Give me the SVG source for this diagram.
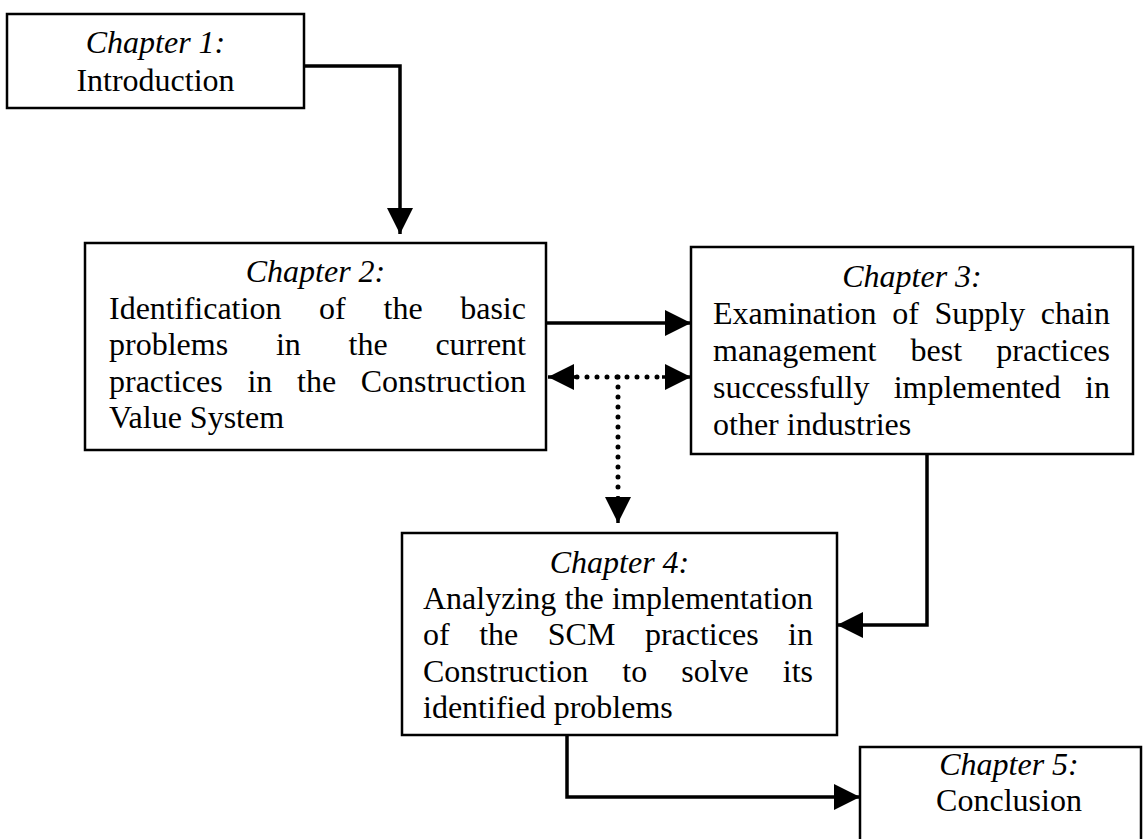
<svg xmlns="http://www.w3.org/2000/svg" width="1147" height="839" viewBox="0 0 1147 839">
  <style>
    .box { fill: #fff; stroke: #000; stroke-width: 2.5; }
    .t { font-family: "Liberation Serif", "Times New Roman", serif; font-size: 32px; fill: #000; }
    .h { font-style: italic; text-anchor: middle; }
    .c { text-anchor: middle; }
    .wire { fill: none; stroke: #000; stroke-width: 3.5; }
    .dots { fill: none; stroke: #000; stroke-width: 5; stroke-linecap: round; stroke-dasharray: 0 10; }
  </style>
  <defs>
    <marker id="ah" markerUnits="userSpaceOnUse" markerWidth="28" markerHeight="28" refX="26" refY="13" orient="auto-start-reverse">
      <path d="M0,0 L26,13 L0,26 z" fill="#000"/>
    </marker>
  </defs>

  <rect width="1147" height="839" fill="#fff"/>

  <g id="connectors">
    <path class="wire" d="M304,66 H400 V234" marker-end="url(#ah)"/>
    <path class="wire" d="M546,323 H691" marker-end="url(#ah)"/>
    <path class="dots" d="M577,377 H662"/>
    <path class="wire" d="M548,377 H577" stroke="none" marker-start="url(#ah)"/>
    <path class="wire" d="M662,377 H691" stroke="none" marker-end="url(#ah)"/>
    <path class="dots" d="M618,377 V496"/>
    <path class="wire" d="M618,496 V523" stroke="none" marker-end="url(#ah)"/>
    <path class="wire" d="M927,454 V625 H837" marker-end="url(#ah)"/>
    <path class="wire" d="M567,735 V797 H860" marker-end="url(#ah)"/>
  </g>

  <g id="chapter1">
    <rect class="box" x="7" y="14" width="297" height="94"/>
    <text class="t h" x="155.5" y="53">Chapter 1:</text>
    <text class="t c" x="155.5" y="91">Introduction</text>
  </g>

  <g id="chapter2">
    <rect class="box" x="85" y="243" width="461" height="207"/>
    <text class="t h" x="315.5" y="282">Chapter 2:</text>
    <text class="t" y="319"><tspan x="109">Identification</tspan><tspan x="319.1">of</tspan><tspan x="383.5">the</tspan><tspan x="460.2">basic</tspan></text>
    <text class="t" y="355"><tspan x="109">problems</tspan><tspan x="275.9">in</tspan><tspan x="348.6">the</tspan><tspan x="435.4">current</tspan></text>
    <text class="t" y="392"><tspan x="109">practices</tspan><tspan x="247.4">in</tspan><tspan x="297">the</tspan><tspan x="360.7">Construction</tspan></text>
    <text class="t" x="109" y="428">Value System</text>
  </g>

  <g id="chapter3">
    <rect class="box" x="691" y="247" width="442" height="207"/>
    <text class="t h" x="912" y="287">Chapter 3:</text>
    <text class="t" y="324"><tspan x="713">Examination</tspan><tspan x="892.2">of</tspan><tspan x="934.5">Supply</tspan><tspan x="1040.7">chain</tspan></text>
    <text class="t" y="361"><tspan x="713">management</tspan><tspan x="910.6">best</tspan><tspan x="996.3">practices</tspan></text>
    <text class="t" y="398"><tspan x="713">successfully</tspan><tspan x="893.7">implemented</tspan><tspan x="1085.1">in</tspan></text>
    <text class="t" x="713" y="435">other industries</text>
  </g>

  <g id="chapter4">
    <rect class="box" x="402" y="533" width="435" height="202"/>
    <text class="t h" x="619.5" y="573">Chapter 4:</text>
    <text class="t" y="609"><tspan x="423">Analyzing</tspan><tspan x="564.7">the</tspan><tspan x="612.1">implementation</tspan></text>
    <text class="t" y="645"><tspan x="423">of</tspan><tspan x="479.2">the</tspan><tspan x="547.8">SCM</tspan><tspan x="644.9">practices</tspan><tspan x="788.1">in</tspan></text>
    <text class="t" y="682"><tspan x="423">Construction</tspan><tspan x="622.3">to</tspan><tspan x="681.2">solve</tspan><tspan x="782.8">its</tspan></text>
    <text class="t" x="423" y="718">identified problems</text>
  </g>

  <g id="chapter5">
    <rect class="box" x="860" y="747" width="281" height="110"/>
    <text class="t h" x="1009" y="775">Chapter 5:</text>
    <text class="t c" x="1009" y="811">Conclusion</text>
  </g>
</svg>
